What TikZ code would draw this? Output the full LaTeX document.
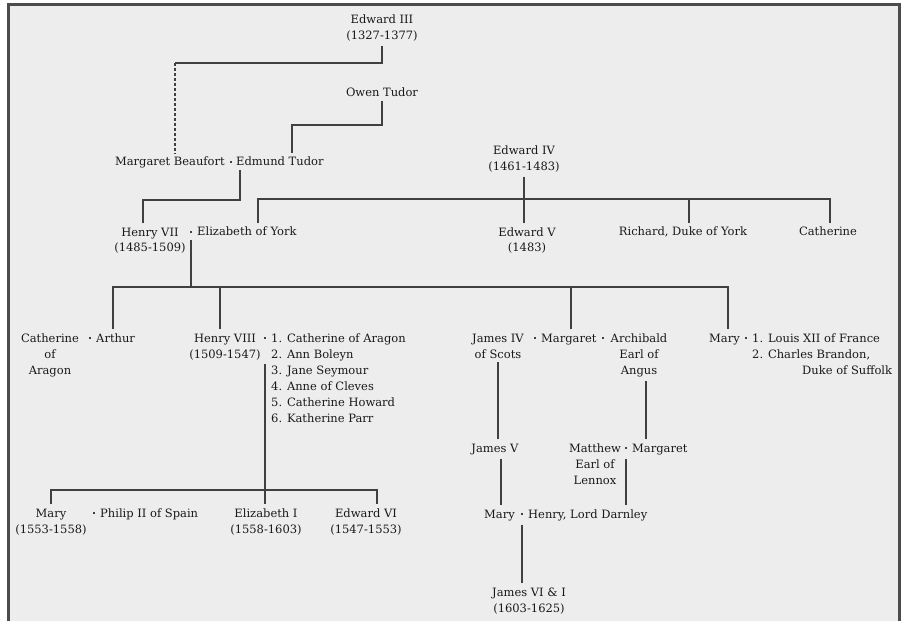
\documentclass[tikz,border=0pt]{standalone}
\usepackage{fontspec}
\setmainfont{DejaVu Serif}
\tikzset{
  person/.style={inner xsep=1pt, inner ysep=4pt, align=center, text=black!90, font=\fontsize{11.5}{16}\selectfont},
  wed/.style={fill=black!75, inner sep=0pt, minimum size=2.6pt},
  line/.style={draw=black!75, line width=1.5pt},
  frame/.style={draw=black!70, line width=3pt},
}
\begin{document}
\begin{tikzpicture}[x=1pt, y=-1pt]
\fill[white] (0,0) rectangle (907,621);
\fill[black!7] (8,5) rectangle (899,621);
\draw[frame] (8,621) -- (8,5) -- (899,5) -- (899,621);

\node (edward3) [person, anchor=base] at (382,40) {Edward III\\(1327-1377)};
\node (owen) [person, anchor=base] at (382,97) {Owen Tudor};

\node (wed1) [wed] at (231,162) {};
\node (beaufort) [person, anchor=base east] at (226,166) {Margaret Beaufort};
\node (edmund) [person, anchor=base west] at (235,166) {Edmund Tudor};

\node (edward4) [person, anchor=base] at (524,171) {Edward IV\\(1461-1483)};

\node (henry7) [person, anchor=base] at (150,252) {Henry VII\\(1485-1509)};
\node (wed2) [wed] at (191,232) {};
\node (elizyork) [person, anchor=base west] at (196,236) {Elizabeth of York};
\node (edward5) [person, anchor=base] at (527,252) {Edward V\\(1483)};
\node (richard) [person, anchor=base] at (683,236) {Richard, Duke of York};
\node (catherine) [person, anchor=base] at (828,236) {Catherine};

\node (aragon) [person, anchor=base] at (50,374) {Catherine\\of\\Aragon};
\node (wed3) [wed] at (90,338) {};
\node (arthur) [person, anchor=base west] at (95,342) {Arthur};
\node (henry8) [person, anchor=base] at (225,358) {Henry VIII\\(1509-1547)};
\node (wed4) [wed] at (265,338) {};
\node (wives) [person, anchor=base west, align=left] at (270,422) {1. Catherine of Aragon\\2. Ann Boleyn\\3. Jane Seymour\\4. Anne of Cleves\\5. Catherine Howard\\6. Katherine Parr};
\node (james4) [person, anchor=base] at (498,358) {James IV\\of Scots};
\node (wed5) [wed] at (535,338) {};
\node (margaret) [person, anchor=base west] at (540,342) {Margaret};
\node (wed6) [wed] at (603,338) {};
\node (archibald) [person, anchor=base] at (639,374) {Archibald\\Earl of\\Angus};
\node (marytudor) [person, anchor=base east] at (741,342) {Mary};
\node (wed7) [wed] at (746,338) {};
\node (maryhusb) [person, anchor=base west, align=left] at (751,374) {1. Louis XII of France\\2. Charles Brandon,\\\hspace*{50pt}Duke of Suffolk};

\node (james5) [person, anchor=base] at (495,452) {James V};
\node (matthew) [person, anchor=base] at (595,484) {Matthew\\Earl of\\Lennox};
\node (wed8) [wed] at (626,448) {};
\node (margaret2) [person, anchor=base west] at (631,452) {Margaret};

\node (mary1) [person, anchor=base] at (51,533) {Mary\\(1553-1558)};
\node (wed10) [wed] at (94,513) {};
\node (philip) [person, anchor=base west] at (99,517) {Philip II of Spain};
\node (eliz1) [person, anchor=base] at (266,533) {Elizabeth I\\(1558-1603)};
\node (edward6) [person, anchor=base] at (366,533) {Edward VI\\(1547-1553)};

\node (maryqs) [person, anchor=base east] at (516,518) {Mary};
\node (wed9) [wed] at (522,514) {};
\node (darnley) [person, anchor=base west] at (527,518) {Henry, Lord Darnley};
\node (james6) [person, anchor=base] at (529,612) {James VI \& I\\(1603-1625)};

\coordinate (k1) at (175,63);
\coordinate (k2) at (292,125);
\coordinate (k3) at (240,200);
\coordinate (k4) at (143,200);
\coordinate (k5) at (258,199);
\coordinate (k6) at (830,199);
\coordinate (k7) at (113,287);
\coordinate (k8) at (728,287);
\coordinate (k9) at (51,490);
\coordinate (k10) at (377,490);
\coordinate (k11) at (689,199);

\draw [line] (edward3.south) |- (k1);
\draw [line, dash pattern=on 3pt off 2pt] (k1) -- (k1 |- beaufort.north);
\draw [line] (owen.south) |- (k2) -- (k2 |- edmund.north);
\draw [line] (k3 |- edmund.south) -- (k3) -- (k4) -- (k4 |- henry7.north);

\draw [line] (edward4.south) -- (edward4.south |- edward5.north);
\draw [line] (k5 |- elizyork.north) -- (k5) -- (k6) -- (k6 |- catherine.north);
\draw [line] (k11) -- (k11 |- richard.north);

\draw [line] (wed2 |- elizyork.south) -- (wed2 |- k7);
\draw [line] (k7 |- arthur.north) -- (k7) -- (k8) -- (k8 |- marytudor.north);
\draw [line] ([xshift=-5pt]henry8.north) -- ([xshift=-5pt]henry8.north |- k7);
\draw [line] ([xshift=2pt]margaret.north) -- ([xshift=2pt]margaret.north |- k7);

\draw [line] (wed4 |- henry8.south) -- (wed4 |- eliz1.north);
\draw [line] (k9 |- mary1.north) -- (k9) -- (k10) -- (k10 |- edward6.north);

\draw [line] (james4.south) -- (james4.south |- james5.north);
\draw [line] ([xshift=7pt]archibald.south) -- ([xshift=7pt]archibald.south |- margaret2.north);
\draw [line] ([xshift=6pt]james5.south) -- ([xshift=6pt]james5.south |- maryqs.north);
\draw [line] (wed8 |- margaret2.south) -- (wed8 |- darnley.north);
\draw [line] (wed9 |- maryqs.south) -- (wed9 |- james6.north);
\end{tikzpicture}
\end{document}
